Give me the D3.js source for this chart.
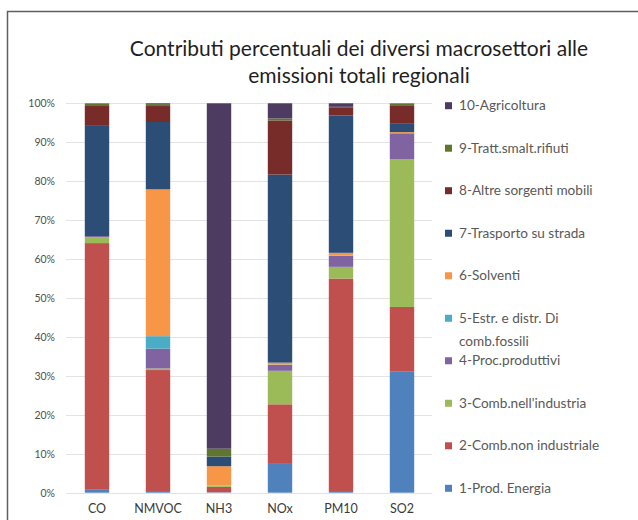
<!DOCTYPE html>
<html>
<head>
<meta charset="utf-8">
<script src="https://cdn.jsdelivr.net/npm/d3@7/dist/d3.min.js"></script>
<style>
  html, body { margin: 0; padding: 0; background: #fff; }
  svg { display: block; }
</style>
</head>
<body>
<svg id="chart" width="638" height="520"></svg>
<script>
// Pollutants on the x axis
const categories = ["CO", "NMVOC", "NH3", "NOx", "PM10", "SO2"];

// Share (%) of each macro-sector in the regional total, per pollutant
const prodEnergia      = [0.9, 0.2, 0.1, 7.4, 0.2, 31.2];
const combNonInd       = [63.2, 31.3, 1.4, 15.3, 54.8, 16.5];
const combIndustria    = [1.5, 0.4, 0.3, 8.6, 3.0, 37.9];
const procProduttivi   = [0.3, 5.1, 0.0, 1.5, 2.8, 6.7];
const estrDistr        = [0.0, 3.2, 0.0, 0.1, 0.1, 0.0];
const solventi         = [0.0, 37.7, 5.0, 0.5, 0.7, 0.3];
const trasportoStrada  = [28.5, 17.3, 2.5, 48.3, 35.3, 2.3];
const altreSorgenti    = [4.9, 4.1, 0.0, 13.9, 1.9, 4.6];
const trattRifiuti     = [0.7, 0.5, 2.0, 0.5, 0.3, 0.4];
const agricoltura      = [0.0, 0.2, 88.7, 3.9, 0.9, 0.1];

const sectorNames = [
  "1-Prod. Energia", "2-Comb.non industriale", "3-Comb.nell'industria",
  "4-Proc.produttivi", "5-Estr. e distr. Di comb.fossili", "6-Solventi",
  "7-Trasporto su strada", "8-Altre sorgenti mobili", "9-Tratt.smalt.rifiuti",
  "10-Agricoltura"
];
const sectorValues = [
  prodEnergia, combNonInd, combIndustria, procProduttivi, estrDistr,
  solventi, trasportoStrada, altreSorgenti, trattRifiuti, agricoltura
];
const sectorColors = [
  "#4F81BD", "#C0504D", "#9BBB59", "#8064A2", "#4BACC6",
  "#F79646", "#2C4D75", "#772C2A", "#5F7530", "#4D3B62"
];
const yTicks = [0, 10, 20, 30, 40, 50, 60, 70, 80, 90, 100];

const svg = d3.select("#chart");
const font = "Lato, 'Open Sans', sans-serif";

// outer frame
svg.append("rect")
  .attr("x", 7.5).attr("y", 11.5)
  .attr("width", 640).attr("height", 520)
  .attr("fill", "none")
  .attr("stroke", "#5f5f5f")
  .attr("stroke-width", 1.5);

// title
const title = svg.append("text")
  .attr("text-anchor", "middle")
  .attr("font-family", font)
  .attr("font-size", 21)
  .attr("fill", "#1f1f1f");
title.append("tspan").attr("x", 359).attr("y", 56)
  .text("Contributi percentuali dei diversi macrosettori alle");
title.append("tspan").attr("x", 359).attr("y", 83)
  .text("emissioni totali regionali");

// table rows for the stack
const rows = categories.map((c, i) => {
  const r = { category: c };
  sectorNames.forEach((n, k) => { r[n] = sectorValues[k][i]; });
  return r;
});

const x = d3.scaleBand()
  .domain(categories)
  .range([66.5, 432.5])
  .paddingInner(0.6)
  .paddingOuter(0.3);

const y = d3.scaleLinear()
  .domain([0, 100])
  .range([492.7, 103.3]);

// gridlines
svg.append("g")
  .selectAll("line")
  .data(yTicks)
  .join("line")
  .attr("x1", 66).attr("x2", 432)
  .attr("y1", d => Math.round(y(d)) + 0.5)
  .attr("y2", d => Math.round(y(d)) + 0.5)
  .attr("stroke", "#e3e3e3")
  .attr("stroke-width", 1);

// y axis labels
const yAxis = d3.axisLeft(y)
  .tickValues(yTicks)
  .tickFormat(d => d + "%")
  .tickSize(0)
  .tickPadding(0);
const gy = svg.append("g")
  .attr("transform", "translate(55,0)")
  .call(yAxis);
gy.select(".domain").remove();
gy.selectAll("text")
  .attr("font-family", font)
  .attr("font-size", 10.5)
  .attr("fill", "#505050");

// stacked bars
const stack = d3.stack().keys(sectorNames);
const layers = stack(rows);

svg.append("g")
  .selectAll("g")
  .data(layers)
  .join("g")
  .attr("fill", (d, i) => sectorColors[i])
  .selectAll("rect")
  .data(d => d)
  .join("rect")
  .attr("x", d => x(d.data.category))
  .attr("width", x.bandwidth())
  .attr("y", d => y(d[1]))
  .attr("height", d => Math.max(0, y(d[0]) - y(d[1])));

// x axis labels
const xAxis = d3.axisBottom(x).tickSize(0).tickPadding(0);
const gx = svg.append("g")
  .attr("transform", "translate(0,504)")
  .call(xAxis);
gx.select(".domain").remove();
gx.selectAll("text")
  .attr("font-family", font)
  .attr("font-size", 12.5)
  .attr("fill", "#3a3a3a");

// legend, top entry is the last sector
const legendOrder = d3.range(sectorNames.length).reverse();
const legend = svg.append("g");
const legendY = d3.scalePoint()
  .domain(legendOrder)
  .range([105.7, 488.3]);

legendOrder.forEach(k => {
  const cy = legendY(k);
  legend.append("rect")
    .attr("x", 445).attr("y", cy - 3.5)
    .attr("width", 7).attr("height", 7)
    .attr("fill", sectorColors[k]);
  const t = legend.append("text")
    .attr("font-family", font)
    .attr("font-size", 13.6)
    .attr("fill", "#595959");
  const name = sectorNames[k];
  const lines = name.startsWith("5-")
    ? ["5-Estr. e distr. Di", "comb.fossili"]
    : [name];
  lines.forEach((ln, j) => {
    t.append("tspan")
      .attr("x", 459)
      .attr("y", cy + 4.5 + j * 23.4)
      .text(ln);
  });
});
</script>
</body>
</html>
